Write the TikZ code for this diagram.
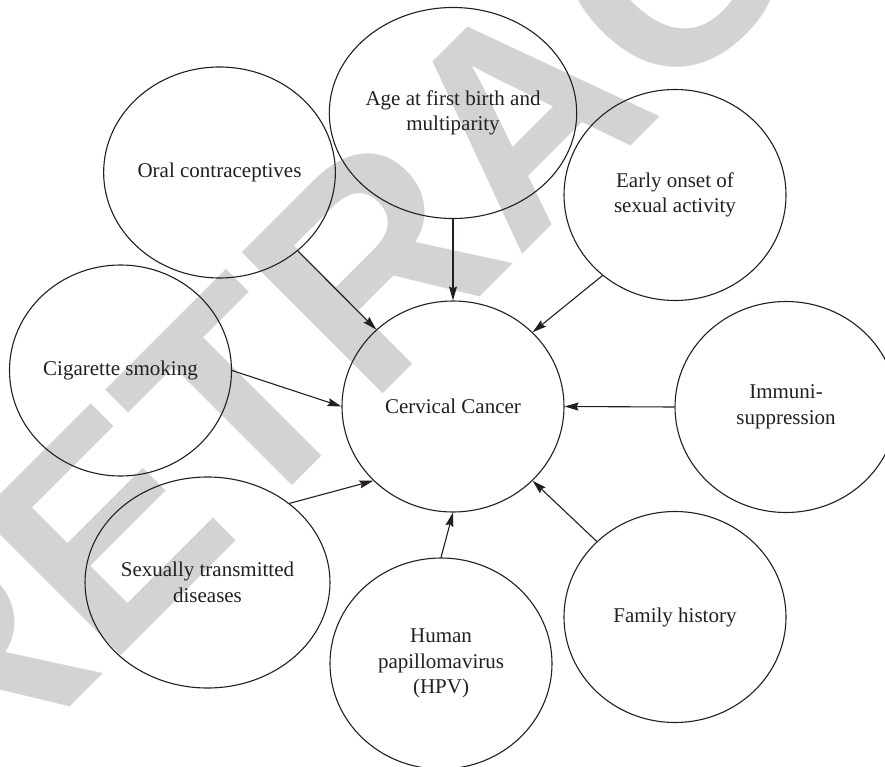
\documentclass[tikz,border=0pt]{standalone}
\usepackage{fontspec}
\setmainfont{Liberation Serif}
\newfontfamily\wmfont{Liberation Sans}
\usetikzlibrary{shapes.geometric,arrows.meta}
\definecolor{wmgray}{RGB}{211,211,211}
\definecolor{ink}{RGB}{35,31,32}
\tikzset{
  factor/.style={ellipse, draw=ink, line width=1.1pt, minimum width=222pt, minimum height=211pt,
    inner sep=0pt, align=center, text=ink, font=\fontsize{21}{25.5}\selectfont},
  link/.style={draw=ink, line width=1.1pt, -{Stealth[length=14pt,width=8pt,inset=2pt]}},
  watermark/.style={rotate=45, text=wmgray, font=\wmfont\bfseries\fontsize{290}{300}\selectfont, inner sep=0pt}
}
\begin{document}
\begin{tikzpicture}[x=1pt,y=-1pt]
\clip (0,0) rectangle (885,767);
\fill[white] (0,0) rectangle (885,767);
\node[watermark] (wm) at (521,115) {RETRACTED};
\node[factor] (cc) at (453,406.5) {Cervical Cancer};
\node[factor] (age) at (453,113) {Age at first birth and\\multiparity};
\node[factor] (oral) at (219.5,172.5) {Oral contraceptives};
\node[factor] (early) at (675,195) {Early onset of\\sexual activity};
\node[factor] (cig) at (120.5,370.5) {Cigarette smoking};
\node[factor] (imm) at (786,407) {Immuni-\\suppression};
\node[factor] (std) at (207.5,582.5) {Sexually transmitted\\diseases};
\node[factor] (hpv) at (441,663.5) {Human\\papillomavirus\\(HPV)};
\node[factor] (fam) at (675,617) {Family history};
\draw[link] (oral) -- (cc);
\draw[link] (age) -- (cc);
\draw[link] (early.228) -- (cc.43);
\draw[link] (cig.0) -- (cc.180);
\draw[link] (imm.180) -- (cc.0);
\draw[link] (std.44) -- (cc.223);
\draw[link] (hpv.90) -- (cc.270);
\draw[link] (fam.136) -- (cc.317);
\end{tikzpicture}
\end{document}
